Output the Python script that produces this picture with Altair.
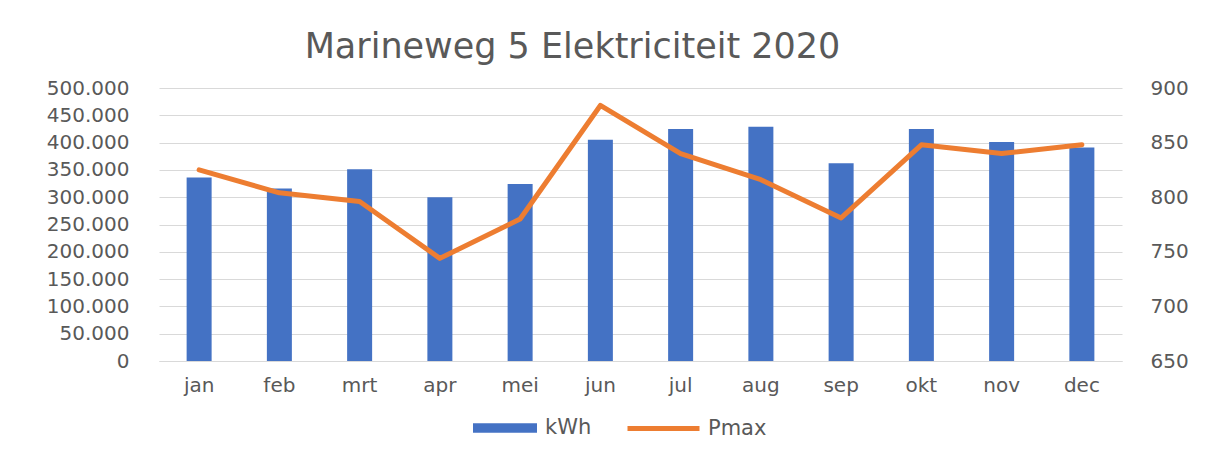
import altair as alt
import pandas as pd

months = ["jan", "feb", "mrt", "apr", "mei", "jun", "jul", "aug", "sep", "okt", "nov", "dec"]
kwh = [336000, 316000, 351000, 300000, 324000, 405000, 425000, 429000, 362000, 425000, 401000, 391000]
pmax = [825, 804, 796, 744, 780, 884, 840, 816, 781, 848, 840, 848]
kwh_ticks = list(range(0, 500001, 50000))
pmax_ticks = [650, 700, 750, 800, 850, 900]

df = pd.DataFrame({"maand": months, "kWh": kwh, "Pmax": pmax})

FONT = "DejaVu Sans"
GREY = "#595959"
BLUE = "#4472C4"
ORANGE = "#ED7D31"

x = alt.X("maand:N", sort=months, title=None,
          scale=alt.Scale(paddingInner=0, paddingOuter=0),
          axis=alt.Axis(labelAngle=0, ticks=False, domain=True, domainColor="#D9D9D9",
                        domainWidth=1, labelPadding=14, labelFontSize=20,
                        labelFont=FONT, labelColor=GREY, grid=False))

bars = alt.Chart(df).transform_calculate(serie1="'kWh'").mark_bar(size=25, color=BLUE).encode(
    x=x,
    y=alt.Y("kWh:Q", title=None,
            scale=alt.Scale(domain=[0, 500000], nice=False),
            axis=alt.Axis(values=kwh_ticks, orient="left", grid=True, gridColor="#D9D9D9",
                          gridWidth=1, domain=False, ticks=False, labelPadding=30,
                          labelFontSize=20, labelFont=FONT, labelColor=GREY,
                          labelExpr="replace(format(datum.value, ','), ',', '.')")),
    color=alt.Color("serie1:N", scale=alt.Scale(domain=["kWh"], range=[BLUE]),
                    legend=alt.Legend(title=None, orient="none", legendX=314, legendY=308,
                                      symbolType="M-1,-0.15L1,-0.15L1,0.15L-1,0.15Z",
                                      symbolSize=4096, symbolStrokeWidth=0, symbolOpacity=1,
                                      labelOffset=8, labelFontSize=21, labelFont=FONT,
                                      labelColor=GREY, padding=0)),
)

line = alt.Chart(df).transform_calculate(serie2="'Pmax'").mark_line(strokeWidth=5, strokeJoin="round",
                                                                     strokeCap="round").encode(
    x=alt.X("maand:N", sort=months),
    y=alt.Y("Pmax:Q", title=None,
            scale=alt.Scale(domain=[650, 900], nice=False, zero=False),
            axis=alt.Axis(values=pmax_ticks, orient="right", grid=False, domain=False,
                          ticks=False, labelPadding=28, labelFontSize=20, labelFont=FONT,
                          labelColor=GREY)),
    stroke=alt.Stroke("serie2:N", scale=alt.Scale(domain=["Pmax"], range=[ORANGE]),
                      legend=alt.Legend(title=None, orient="none", legendX=466, legendY=302,
                                        symbolType="stroke", symbolSize=5184,
                                        symbolStrokeWidth=5, labelOffset=6,
                                        labelFontSize=21, labelFont=FONT,
                                        labelColor=GREY, padding=0)),
)

chart = alt.layer(bars, line).resolve_scale(y="independent").properties(
    width=963,
    height=273,
    background="white",
    autosize=alt.AutoSizeParams(type="none"),
    padding={"left": 151, "top": 80, "right": 78, "bottom": 81},
    title=alt.TitleParams("Marineweg 5 Elektriciteit 2020", fontSize=35, font=FONT,
                          fontWeight="normal", color=GREY, anchor="middle", dx=-68,
                          baseline="alphabetic", offset=33, dy=48),
).configure_view(stroke=None)

chart.save("out.html", embed_options={"renderer": "svg", "actions": False})
